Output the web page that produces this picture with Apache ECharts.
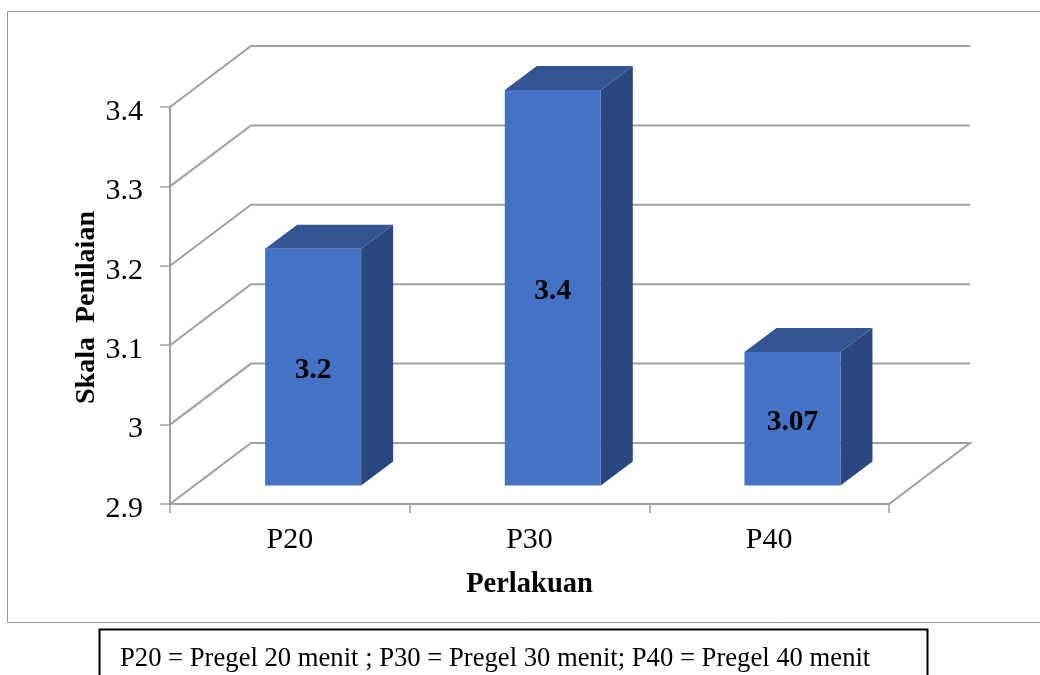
<!DOCTYPE html>
<html>
<head>
<meta charset="utf-8">
<style>html,body{margin:0;padding:0;background:#fff;overflow:hidden}#c{width:1040px;height:675px}</style>
<script src="https://cdn.jsdelivr.net/npm/echarts@6/dist/echarts.min.js"></script>
</head>
<body>
<div id="c"></div>
<script>
const categories = ['P20', 'P30', 'P40'];
const values = [3.2, 3.4, 3.07];
const tickValues = [2.9, 3, 3.1, 3.2, 3.3, 3.4];
const xTitle = 'Perlakuan';
const yTitle = 'Skala  Penilaian';
const noteText = 'P20 = Pregel 20 menit ; P30 = Pregel 30 menit; P40 = Pregel 40 menit';

const SERIF = '"Liberation Serif", serif';
const GRID_COLOR = '#a0a0a0';
const WALL_DX = 81, WALL_DY = -61;      // depth of the 3D box
const BAR_DX = 23.3, BAR_DY = -17, BASE_DY = -18.5;  // where bars stand on the floor
const SIDE_DX = 32, SIDE_DY = -24;      // depth of each bar
const BAR_W = 96;
const FRONT = '#4472C4', TOP = '#335593', SIDE = '#2A4880';

const chart = echarts.init(document.getElementById('c'), null, {renderer: 'canvas'});
chart.setOption({
  animation: false,
  backgroundColor: '#fff',
  grid: {left: 170, top: 107, width: 719, height: 397, containLabel: false},
  xAxis: {
    type: 'category', data: categories,
    boundaryGap: true,
    name: xTitle, nameLocation: 'middle', nameGap: 66,
    nameTextStyle: {fontFamily: SERIF, fontSize: 28.5, fontWeight: 'bold', color: '#000'},
    axisLine: {show: true, lineStyle: {color: GRID_COLOR, width: 2}},
    axisTick: {show: true, length: 9, lineStyle: {color: GRID_COLOR, width: 1.5}},
    axisLabel: {fontFamily: SERIF, fontSize: 30, color: '#000', margin: 21}
  },
  yAxis: {
    type: 'value', min: 2.9, max: 3.4, interval: 0.1,
    name: yTitle, nameLocation: 'middle', nameGap: 69, nameRotate: 90, nameMoveOverlap: false,
    nameTextStyle: {fontFamily: SERIF, fontSize: 28, fontWeight: 'bold', color: '#000', padding: [0, 4, 0, 0]},
    axisLine: {show: true, lineStyle: {color: GRID_COLOR, width: 2}},
    axisTick: {show: true, length: 10, lineStyle: {color: GRID_COLOR, width: 1.5}},
    splitLine: {show: false},
    axisLabel: {fontFamily: SERIF, fontSize: 30, color: '#000', margin: 27,
      verticalAlign: 'top', lineHeight: 10,
      formatter: v => String(+v.toFixed(2))}
  },
  graphic: [
    {type: 'rect', silent: true, z: -1, shape: {x: 7.5, y: 11.5, width: 1060, height: 611},
      style: {fill: 'none', stroke: '#9a9a9a', lineWidth: 1}},
    {type: 'rect', silent: true, z: -1, shape: {x: 99.5, y: 629.5, width: 828, height: 80},
      style: {fill: '#fff', stroke: '#000', lineWidth: 2}},
    {type: 'text', silent: true, left: 120, top: 645,
      style: {text: noteText, fontFamily: SERIF, fontSize: 26.65, fill: '#000'}}
  ],
  series: [
    {
      type: 'custom', z: 1, silent: true,
      coordinateSystem: 'cartesian2d',
      encode: {y: 0},
      data: tickValues.map(v => [v]),
      renderItem(params, api) {
        const cs = params.coordSys;
        const y = api.coord([0, api.value(0)])[1];
        const x0 = cs.x, x1 = cs.x + cs.width;
        const pts = [[x0, y], [x0 + WALL_DX, y + WALL_DY], [x1 + WALL_DX, y + WALL_DY]];
        if (params.dataIndex === 0) pts.push([x1, y]);
        return {type: 'polyline', shape: {points: pts},
          style: {fill: 'none', stroke: GRID_COLOR, lineWidth: 2}};
      }
    },
    {
      type: 'custom', z: 3, silent: true,
      coordinateSystem: 'cartesian2d',
      encode: {x: 0, y: 1},
      data: values.map((v, i) => [i, v]),
      renderItem(params, api) {
        const v = api.value(1);
        const top = api.coord([api.value(0), v]);
        const base = api.coord([api.value(0), tickValues[0]]);
        const l = top[0] + BAR_DX - BAR_W / 2, r = l + BAR_W;
        const t = top[1] + BAR_DY, b = base[1] + BASE_DY;
        return {type: 'group', children: [
          {type: 'polygon', shape: {points: [[r, t], [r + SIDE_DX, t + SIDE_DY], [r + SIDE_DX, b + SIDE_DY], [r, b]]},
            style: {fill: SIDE}},
          {type: 'polygon', shape: {points: [[l, t], [l + SIDE_DX, t + SIDE_DY], [r + SIDE_DX, t + SIDE_DY], [r, t]]},
            style: {fill: TOP}},
          {type: 'rect', shape: {x: l, y: t, width: BAR_W, height: b - t}, style: {fill: FRONT}},
          {type: 'text', style: {text: String(v), x: (l + r) / 2, y: (t + b) / 2 + 3.5,
            align: 'center', verticalAlign: 'middle',
            fontFamily: SERIF, fontSize: 29.5, fontWeight: 'bold', fill: '#000'}}
        ]};
      }
    }
  ]
});
</script>
</body>
</html>
